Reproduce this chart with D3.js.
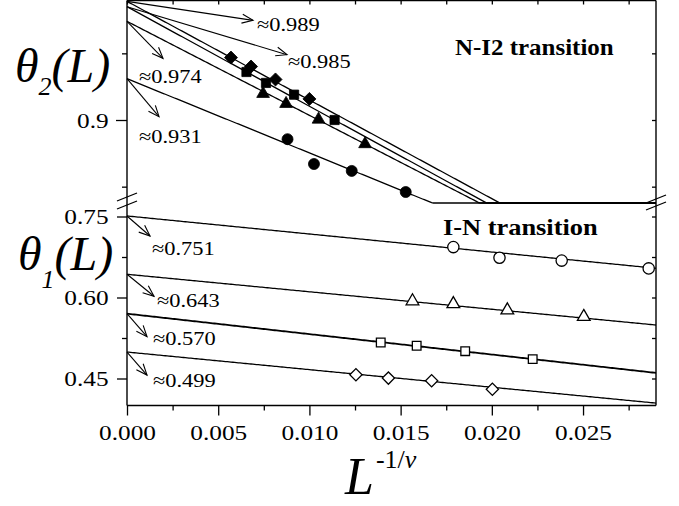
<!DOCTYPE html>
<html>
<head>
<meta charset="utf-8">
<script src="https://cdn.jsdelivr.net/npm/d3@7"></script>
<style>
  body { margin: 0; background: #fff; }
  svg text { font-family: "Liberation Serif", "Times New Roman", serif; fill: #000; }
</style>
</head>
<body>
<svg id="chart" width="679" height="506"></svg>
<script>
// Upper panel (N-I2 transition), filled symbols
const upDiamondX = [0.0057, 0.0068, 0.00814, 0.0100];
const upDiamondY = [0.9468, 0.9401, 0.9304, 0.9158];
const upSquareX = [0.00655, 0.00762, 0.00916, 0.01138];
const upSquareY = [0.936, 0.9278, 0.919, 0.900];
const upTriangleX = [0.00746, 0.00872, 0.0105, 0.01305];
const upTriangleY = [0.9197, 0.9122, 0.9004, 0.882];
const upCircleX = [0.0088, 0.01025, 0.01232, 0.01528];
const upCircleY = [0.8856, 0.867, 0.8618, 0.846];
const upFitIntercept = [0.989, 0.985, 0.974, 0.931];
const upFitSlope = [-7.4, -7.47, -7.05, -5.57];

// Lower panel (I-N transition), open symbols
const loCircleX = [0.01789, 0.02042, 0.02383, 0.0286];
const loCircleY = [0.6933, 0.6735, 0.6683, 0.6539];
const loTriangleX = [0.01565, 0.01789, 0.02085, 0.02504];
const loTriangleY = [0.5933, 0.588, 0.5765, 0.5643];
const loSquareX = [0.01391, 0.01588, 0.01854, 0.02224];
const loSquareY = [0.5167, 0.5106, 0.5006, 0.4859];
const loDiamondX = [0.01255, 0.01433, 0.0167, 0.02003];
const loDiamondY = [0.4569, 0.4507, 0.4457, 0.430];
const loFitIntercept = [0.751, 0.643, 0.570, 0.499];
const loFitSlope = [-3.34, -3.24, -3.78, -3.26];

// tick values
const xMajorTicks = [0, 0.005, 0.010, 0.015, 0.020, 0.025];
const xMinorTicks = [0.0025, 0.0075, 0.0125, 0.0175, 0.0225, 0.0275];
const upMajorTicks = [0.9];
const upMinorTicks = [0.85, 0.95];
const loMajorTicks = [0.45, 0.60, 0.75];
const loMinorTicks = [0.525, 0.675];

// annotation labels (value at x = 0)
const upLabels = ["\u22480.989", "\u22480.985", "\u22480.974", "\u22480.931"];
const loLabels = ["\u22480.751", "\u22480.643", "\u22480.570", "\u22480.499"];

// arrow tip and label offsets from the line start (pixels)
const upArrowLayout = [
  { tx: 126, ty: 19, lx: 130, ly: 30 },
  { tx: 160, ty: 48, lx: 161, ly: 61 },
  { tx: 36, ty: 37, lx: 12, ly: 62 },
  { tx: 32, ty: 38, lx: 12, ly: 64 }
];
const loArrowLayout = [
  { tx: 23, ty: 20, lx: 25, ly: 39 },
  { tx: 27, ty: 22, lx: 30, ly: 33 },
  { tx: 20, ty: 23, lx: 26, ly: 31 },
  { tx: 20, ty: 23, lx: 26, ly: 35 }
];

const svg = d3.select("#chart");
const plotLeft = 127, plotRight = 656, plotTop = 0.5, plotMid = 203, plotBottom = 405.5;
const stretch = 1.15; // the figure's text is a bit wider than plain Times

const x = d3.scaleLinear().domain([0, 0.029]).range([plotLeft, plotRight]);
const yUp = d3.scaleLinear().domain([0.83775, 0.98963]).range([plotMid, plotTop]);
const yLo = d3.scaleLinear().domain([0.4, 0.775]).range([plotBottom, plotMid]);

svg.append("defs").append("marker")
  .attr("id", "arr")
  .attr("viewBox", "-12 -6 14 12")
  .attr("refX", 0).attr("refY", 0)
  .attr("markerWidth", 14).attr("markerHeight", 12)
  .attr("markerUnits", "userSpaceOnUse")
  .attr("orient", "auto")
  .append("path")
  .attr("d", "M-11,-4.5L0,0L-11,4.5")
  .attr("fill", "none")
  .attr("stroke", "#000")
  .attr("stroke-width", 1.1);

// axes
function styleAxis(g) {
  g.select(".domain").remove();
  g.selectAll("line").attr("stroke", "#000").attr("stroke-width", 1.3);
  g.selectAll("text").attr("font-size", "22px").attr("fill", "#000")
    .attr("font-family", "Liberation Serif, Times New Roman, serif")
    .attr("transform", `scale(${stretch},1)`);
}

svg.append("g").attr("transform", `translate(0,${plotBottom})`)
  .call(d3.axisBottom(x).tickValues(xMajorTicks).tickSize(10).tickPadding(9).tickFormat(d3.format(".3f")))
  .call(styleAxis);
svg.append("g").attr("transform", `translate(0,${plotBottom})`)
  .call(d3.axisBottom(x).tickValues(xMinorTicks).tickSize(5).tickFormat(""))
  .call(styleAxis);
svg.append("g").attr("transform", `translate(0,${plotTop})`)
  .call(d3.axisBottom(x).tickValues(xMajorTicks.concat(xMinorTicks)).tickSize(4).tickFormat(""))
  .call(styleAxis);

svg.append("g").attr("transform", `translate(${plotLeft},0)`)
  .call(d3.axisLeft(yUp).tickValues(upMajorTicks).tickSize(11).tickPadding(5).tickFormat(d3.format(".1f")))
  .call(styleAxis);
svg.append("g").attr("transform", `translate(${plotLeft},0)`)
  .call(d3.axisLeft(yUp).tickValues(upMinorTicks).tickSize(5).tickFormat(""))
  .call(styleAxis);
svg.append("g").attr("transform", `translate(${plotLeft},0)`)
  .call(d3.axisLeft(yLo).tickValues(loMajorTicks).tickSize(10).tickPadding(6).tickFormat(d3.format(".2f")))
  .call(styleAxis);
svg.append("g").attr("transform", `translate(${plotLeft},0)`)
  .call(d3.axisLeft(yLo).tickValues(loMinorTicks).tickSize(5).tickFormat(""))
  .call(styleAxis);
svg.append("g").attr("transform", `translate(${plotRight},0)`)
  .call(d3.axisLeft(yUp).tickValues(upMajorTicks.concat(upMinorTicks)).tickSize(4).tickFormat(""))
  .call(styleAxis);
svg.append("g").attr("transform", `translate(${plotRight},0)`)
  .call(d3.axisLeft(yLo).tickValues(loMajorTicks.concat(loMinorTicks)).tickSize(4).tickFormat(""))
  .call(styleAxis);

// frame
const frame = svg.append("g").attr("stroke", "#000").attr("stroke-width", 1.4);
frame.append("line").attr("x1", plotLeft).attr("x2", plotRight).attr("y1", plotTop).attr("y2", plotTop);
frame.append("line").attr("x1", plotLeft).attr("x2", plotRight).attr("y1", plotBottom).attr("y2", plotBottom);
frame.append("line").attr("x1", plotLeft).attr("x2", plotLeft).attr("y1", plotTop).attr("y2", plotBottom);
frame.append("line").attr("x1", plotRight).attr("x2", plotRight).attr("y1", plotTop).attr("y2", plotBottom);

// axis break marks
[[plotLeft, 197], [plotLeft, 205], [plotRight, 199], [plotRight, 206]].forEach(([bx, by]) => {
  frame.append("line")
    .attr("x1", bx - 10).attr("y1", by + 4)
    .attr("x2", bx + 10).attr("y2", by - 4)
    .attr("stroke-width", 1.3);
});

// fit lines
const fitX = d3.range(0, 0.02901, 0.0001);
const upLine = (a, b) => d3.line()
  .x(d => x(d))
  .y(d => yUp(Math.max(a + b * d, yUp.domain()[0])));
const loLine = (a, b) => d3.line()
  .x(d => x(d))
  .y(d => yLo(a + b * d));

upFitIntercept.forEach((a, i) => {
  svg.append("path").datum(fitX)
    .attr("d", upLine(a, upFitSlope[i]))
    .attr("fill", "none").attr("stroke", "#000").attr("stroke-width", 1.3);
});
loFitIntercept.forEach((a, i) => {
  svg.append("path").datum(fitX)
    .attr("d", loLine(a, loFitSlope[i]))
    .attr("fill", "none").attr("stroke", "#000")
    .attr("stroke-width", i === 2 ? 1.8 : 1.3);
});

// symbols
function drawPoints(xs, ys, yScale, type, size, filled, rotate) {
  const pts = xs.map((v, i) => [v, ys[i]]);
  svg.append("g").selectAll("path")
    .data(pts)
    .enter()
    .append("path")
    .attr("d", d3.symbol().type(type).size(size))
    .attr("transform", d => `translate(${x(d[0])},${yScale(d[1])}) rotate(${rotate})`)
    .attr("fill", filled ? "#000" : "#fff")
    .attr("stroke", "#000")
    .attr("stroke-width", filled ? 0.8 : 1.3);
}

drawPoints(upDiamondX, upDiamondY, yUp, d3.symbolSquare, 85, true, 45);
drawPoints(upSquareX, upSquareY, yUp, d3.symbolSquare, 85, true, 0);
drawPoints(upTriangleX, upTriangleY, yUp, d3.symbolTriangle, 70, true, 0);
drawPoints(upCircleX, upCircleY, yUp, d3.symbolCircle, 95, true, 0);

drawPoints(loCircleX, loCircleY, yLo, d3.symbolCircle, 100, false, 0);
drawPoints(loTriangleX, loTriangleY, yLo, d3.symbolTriangle, 70, false, 0);
drawPoints(loSquareX, loSquareY, yLo, d3.symbolSquare, 75, false, 0);
drawPoints(loDiamondX, loDiamondY, yLo, d3.symbolSquare, 75, false, 45);

// text helper: placed with a transform so it can be widened
function addText(tx, ty, size, sx) {
  return svg.append("text")
    .attr("transform", `translate(${tx},${ty}) scale(${sx},1)`)
    .attr("font-size", size + "px");
}

// arrows + labels
function drawAnnotations(intercepts, labels, layout, yScale) {
  intercepts.forEach((v, i) => {
    const sx = x(0), sy = yScale(v), l = layout[i];
    svg.append("line")
      .attr("x1", sx).attr("y1", sy)
      .attr("x2", sx + l.tx).attr("y2", sy + l.ty)
      .attr("stroke", "#000").attr("stroke-width", 1.1)
      .attr("marker-end", "url(#arr)");
    addText(sx + l.lx, sy + l.ly, 19.5, stretch).text(labels[i]);
  });
}
drawAnnotations(upFitIntercept, upLabels, upArrowLayout, yUp);
drawAnnotations(loFitIntercept, loLabels, loArrowLayout, yLo);

// panel titles
addText(455, 55, 24, 1.04).attr("font-weight", "bold").text("N-I2 transition");
addText(443, 235, 24, 1.1).attr("font-weight", "bold").text("I-N transition");

// y labels
function thetaLabel(tx, ty, sub, subDy) {
  const t = addText(tx, ty, 48, 1.0).attr("font-style", "italic");
  t.append("tspan").text("\u03b8");
  t.append("tspan").attr("font-size", "26px").attr("dy", subDy).text(sub);
  t.append("tspan").attr("dy", -subDy).text("(L)");
}
thetaLabel(15, 82, "2", 13);
thetaLabel(18, 270, "1", 18);

// x label
const xl = addText(345, 494, 52, 1.0).attr("font-style", "italic");
xl.append("tspan").text("L");
xl.append("tspan").attr("font-size", "26px").attr("font-style", "normal")
  .attr("dx", 2).attr("dy", -26).text("-1/");
xl.append("tspan").attr("font-size", "26px").text("\u03bd");
</script>
</body>
</html>
